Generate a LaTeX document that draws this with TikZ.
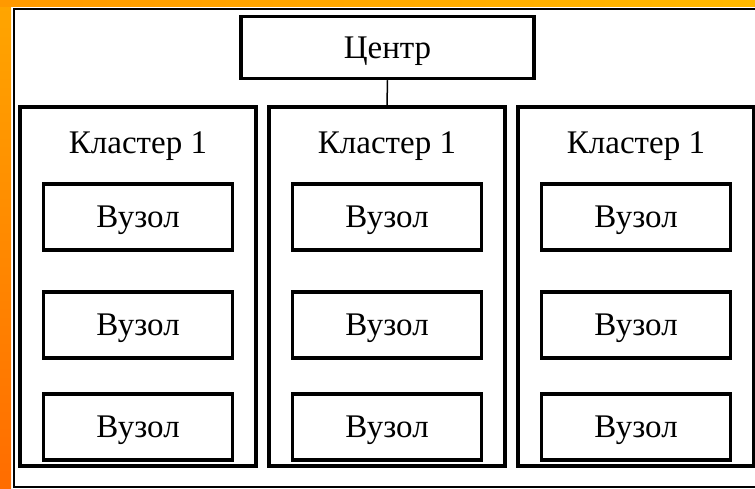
\documentclass[tikz,border=0pt]{standalone}
\usepackage{fontspec}
\setmainfont{Liberation Serif}
\tikzset{
        box/.style={draw,line width=3.5pt,rectangle,inner sep=0pt,text depth=0pt},
        clusterbox/.style={box,minimum width=236pt,minimum height=359pt},
        nodebox/.style={box,minimum width=189pt,minimum height=66pt},
}

\begin{document}
\begin{tikzpicture}[x=1pt,y=-1pt,font=\fontsize{33}{40}\selectfont]
        \useasboundingbox (0,0) rectangle (755,489) ;
        % orange frame on the left and on top
        \shade[top color=orange!70!yellow,bottom color=orange!85!red]
        (0,0) rectangle (11,489) ;
        \shade[left color=orange!80!yellow,right color=orange!55!yellow]
        (0,0) rectangle (755,7) ;
        \draw[line width=2pt] (13.5,9) rectangle (762,487) ;
        % centre
        \node[box,minimum width=293pt,minimum height=62pt] (centre) at (387.5,47.5) {Центр} ;
        % clusters with their nodes
        \foreach \i/\x in {1/138,2/387,3/636} {
          \node[clusterbox] (cl\i) at (\x,286.5) {} ;
          \node (title\i) at (\x,146.5) {Кластер 1} ;
          \foreach \j/\y in {1/217,2/325,3/427}
            \node[nodebox] (n\i\j) at (\x,\y) {Вузол} ;
        }
        \draw[line width=1.5pt] (centre.south) -- (cl2.north) ;
\end{tikzpicture}
\end{document}
